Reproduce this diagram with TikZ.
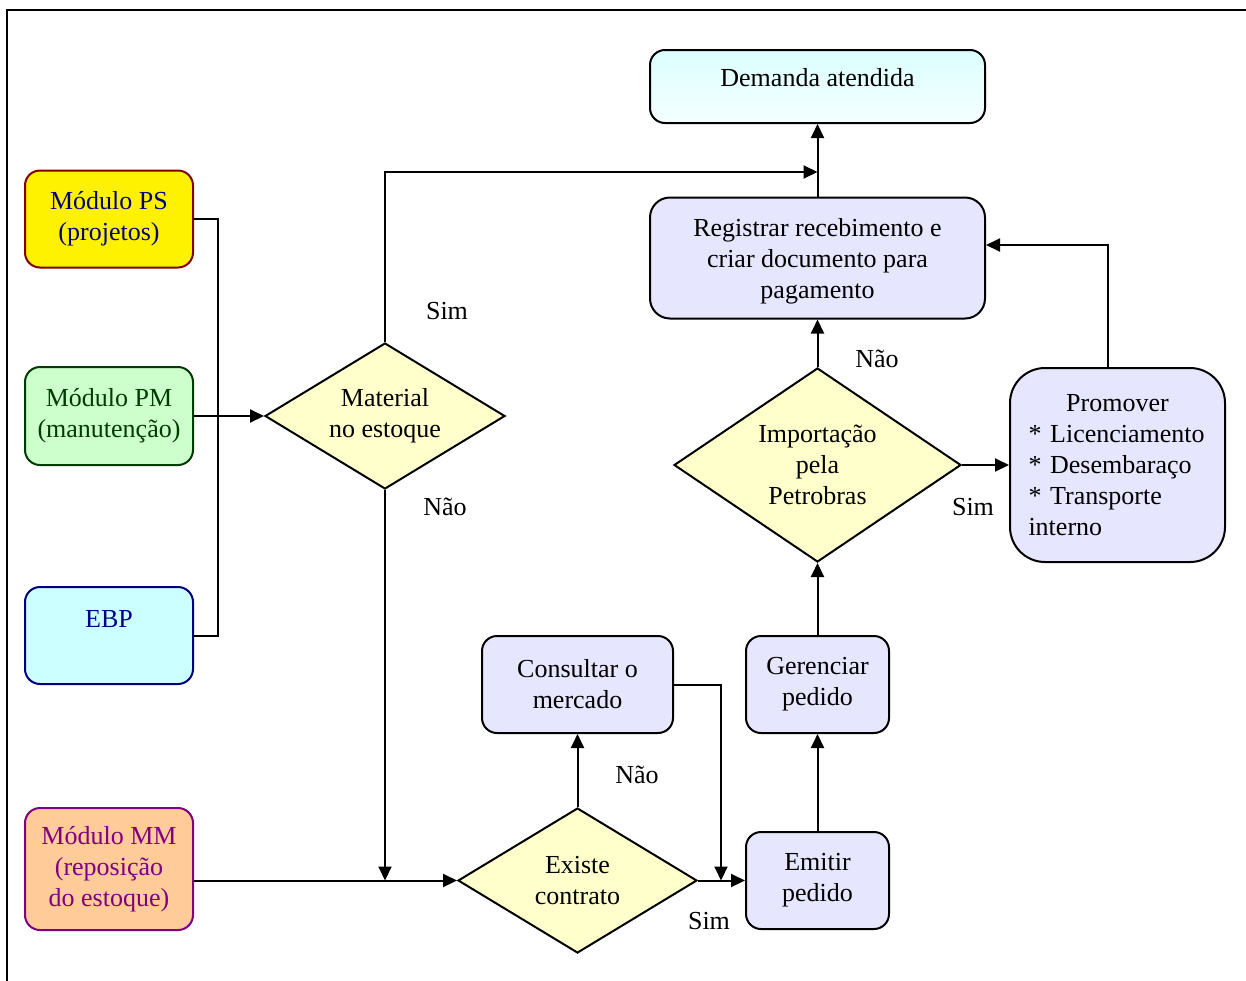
\documentclass[tikz,border=0pt]{standalone}
\usepackage{fontspec}
\setmainfont{Liberation Serif}
\usetikzlibrary{shapes.geometric,arrows.meta}
\definecolor{redLine}{RGB}{128,0,0}
\definecolor{navyText}{RGB}{0,0,128}
\definecolor{greenFill}{RGB}{204,255,204}
\definecolor{greenText}{RGB}{0,60,0}
\definecolor{cyanFill}{RGB}{204,255,255}
\definecolor{orangeFill}{RGB}{255,204,153}
\definecolor{purpleText}{RGB}{128,0,128}
\definecolor{decFill}{RGB}{255,255,204}
\definecolor{lavFill}{RGB}{230,230,255}
\definecolor{demTop}{RGB}{220,255,255}
\definecolor{demBot}{RGB}{245,255,255}
\begin{document}
\begin{tikzpicture}[x=1pt, y=-1pt,
    boxStyle/.style={rectangle, rounded corners=15pt, draw, line width=2pt, align=center, inner sep=0pt, font=\fontsize{26}{31}\selectfont},
    decStyle/.style={diamond, draw, line width=2pt, fill=decFill, align=center, inner sep=0pt, font=\fontsize{26}{31}\selectfont},
    lblStyle/.style={font=\fontsize{26}{31}\selectfont},
    lineStyle/.style={line width=2pt},
    arrStyle/.style={line width=2pt, -{Triangle[length=14pt,width=13pt]}}]
    \useasboundingbox (0,0) rectangle (1246,980);
    \clip (0,0) rectangle (1246,980);
    \draw[line width=2pt] (7,1000) -- (7,10) -- (1260,10);

    % sources
    \node[boxStyle, fill=yellow, draw=redLine, text=navyText, minimum width=168, minimum height=97] (mod_PS) at (109, 219) {Módulo PS\\(projetos)};
    \node[boxStyle, fill=greenFill, draw=greenText, text=greenText, minimum width=168, minimum height=98] (mod_PM) at (109, 416) {Módulo PM\\(manutenção)};
    \node[boxStyle, fill=cyanFill, draw=navyText, text=navyText, minimum width=168, minimum height=97, text height=20pt, text depth=37pt] (mod_EBP) at (109, 635.5) {EBP};
    \node[boxStyle, fill=orangeFill, draw=purpleText, text=purpleText, minimum width=168, minimum height=122] (mod_MM) at (109, 869) {Módulo MM\\(reposição\\do estoque)};

    % decisions
    \node[decStyle, minimum width=240, minimum height=146, aspect=1.64] (dec_M) at (385, 416) {Material\\no estoque};
    \node[decStyle, minimum width=287, minimum height=194, aspect=1.48] (dec_I) at (817.5, 465) {Importação\\pela\\Petrobras};
    \node[decStyle, minimum width=239, minimum height=145, aspect=1.65] (dec_E) at (577.5, 880.5) {Existe\\contrato};

    % steps
    \node[boxStyle, top color=demTop, bottom color=demBot, minimum width=335, minimum height=73, text height=20pt, text depth=20pt] (demand) at (817.5, 86.5) {Demanda atendida};
    \node[boxStyle, fill=lavFill, rounded corners=20pt, minimum width=335, minimum height=121, text depth=0pt] (reg) at (817.5, 258) {Registrar recebimento e\\criar documento para\\pagamento};
    \node[boxStyle, fill=lavFill, rounded corners=35pt, minimum width=215, minimum height=194, text width=178pt, align=left] (prom) at (1117.5, 465) {\makebox[178pt]{Promover}\\{*}~Licenciamento\\{*}~Desembaraço\\{*}~Transporte\\interno};
    \node[boxStyle, fill=lavFill, minimum width=191, minimum height=97] (cons) at (577.5, 684.5) {Consultar o\\mercado};
    \node[boxStyle, fill=lavFill, minimum width=143, minimum height=97] (ger) at (817.5, 684.5) {Gerenciar\\pedido};
    \node[boxStyle, fill=lavFill, minimum width=143, minimum height=97] (emit) at (817.5, 880.5) {Emitir\\pedido};

    \coordinate (join_R) at (817.5, 172);
    \coordinate (join_M) at (385, 880.5);
    \coordinate (join_E) at (721, 880.5);

    \draw[lineStyle] (mod_PS.east) -- ++(24,0) |- (mod_EBP.east);
    \draw[arrStyle] (mod_PM.east) -- (dec_M.west);
    \draw[arrStyle] (dec_M.north) |- (join_R);
    \draw[arrStyle] (dec_M.south) -- (join_M);
    \draw[arrStyle] (reg.north) -- (demand.south);
    \draw[arrStyle] (mod_MM.east |- dec_E.west) -- (dec_E.west);
    \draw[arrStyle] (dec_E.north) -- (cons.south);
    \draw[arrStyle] (cons.east) -| (join_E);
    \draw[arrStyle] (dec_E.east) -- (emit.west);
    \draw[arrStyle] (emit.north) -- (ger.south);
    \draw[arrStyle] (ger.north) -- (dec_I.south);
    \draw[arrStyle] (dec_I.north) -- (reg.south);
    \draw[arrStyle] (dec_I.east) -- (prom.west);
    \draw[arrStyle] ([xshift=-9.5pt]prom.north) |- ([yshift=13pt]reg.east);

    % labels
    \node[lblStyle] (lbl_M_S) at (447, 311) {Sim};
    \node[lblStyle] (lbl_M_N) at (445, 507) {Não};
    \node[lblStyle] (lbl_E_N) at (637, 775) {Não};
    \node[lblStyle] (lbl_E_S) at (709, 921) {Sim};
    \node[lblStyle] (lbl_I_N) at (877, 359) {Não};
    \node[lblStyle] (lbl_I_S) at (973, 507) {Sim};
\end{tikzpicture}
\end{document}
